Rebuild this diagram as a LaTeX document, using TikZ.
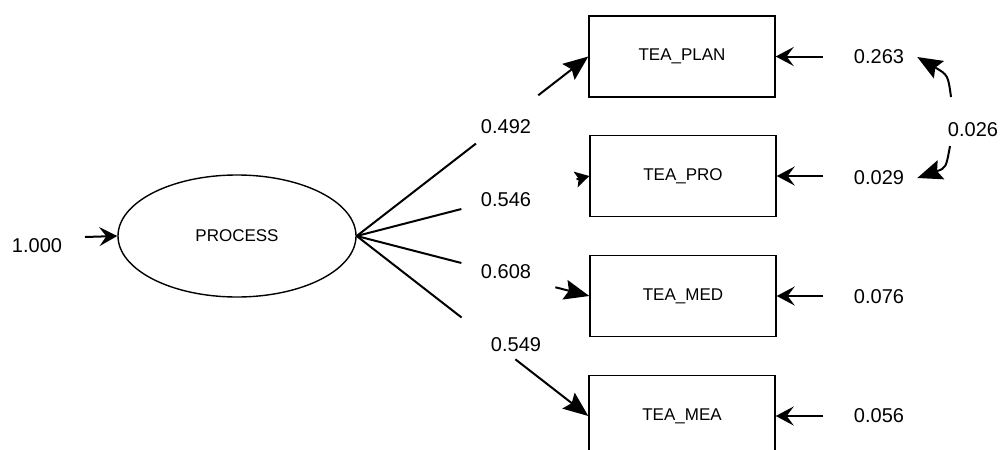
\documentclass[tikz,border=0pt]{standalone}
\usepackage{fontspec}
\setmainfont{Liberation Sans}
\usetikzlibrary{shapes.geometric,arrows.meta,calc}
\begin{document}
\begin{tikzpicture}[x=1pt,y=-1pt,
  obs/.style={draw,line width=1.4pt,minimum width=186pt,minimum height=81pt,inner sep=0pt,font=\fontsize{17}{17}\selectfont},
  lat/.style={draw,ellipse,line width=1.4pt,minimum width=238pt,minimum height=122pt,inner sep=0pt,font=\fontsize{17}{17}\selectfont},
  num/.style={inner sep=0pt,font=\fontsize{20}{20}\selectfont},
  load/.style={line width=2pt},
  loadarr/.style={line width=2pt,-{Stealth[length=25pt,width=20pt,inset=4pt]}},
  smallarr/.style={line width=2pt,-{Stealth[length=14pt,width=16pt,inset=3pt]}},
  resarr/.style={line width=2pt,-{Stealth[length=18pt,width=19pt,inset=7pt]}},
  covarr/.style={line width=2pt,-{Stealth[length=25pt,width=20pt,inset=4pt]}}
]
\useasboundingbox (0,0) rectangle (1002,450);
\fill[white] (0,0) rectangle (1002,450);
\clip (0,0) rectangle (1002,450);

% latent variable
\node[lat] (p) at (237,236) {PROCESS};
\node[num] (e) at (37,246) {1.000};
\coordinate (et) at (85,237);
\draw[resarr] (et) -- (p.west);

% observed variables
\node[obs] (plan) at (682,56.5) {TEA\_PLAN};
\node[obs] (pro)  at (683,176) {TEA\_PRO};
\node[obs] (med)  at (683,296) {TEA\_MED};
\node[obs] (mea)  at (682,416) {TEA\_MEA};

% loading labels
\node[num] (l1) at (506,127) {0.492};
\node[num] (l2) at (506,200) {0.546};
\node[num] (l3) at (506,272) {0.608};
\node[num] (l4) at (516,345) {0.549};

% loadings (broken lines)
\coordinate (a1) at ($(p.east)!0.515!(plan.west)$);
\coordinate (b1) at ($(p.east)!0.784!(plan.west)$);
\coordinate (a2) at ($(p.east)!0.45!(pro.west)$);
\coordinate (b2) at ($(p.east)!0.945!(pro.west)$);
\coordinate (a3) at ($(p.east)!0.45!(med.west)$);
\coordinate (b3) at ($(p.east)!0.854!(med.west)$);
\coordinate (a4) at ($(p.east)!0.453!(mea.west)$);
\coordinate (b4) at ($(p.east)!0.685!(mea.west)$);
\draw[load] (p.east) -- (a1);
\draw[loadarr] (b1) -- (plan.west);
\draw[load] (p.east) -- (a2);
\draw[smallarr] (b2) -- (pro.west);
\draw[load] (p.east) -- (a3);
\draw[loadarr] (b3) -- (med.west);
\draw[load] (p.east) -- (a4);
\draw[loadarr] (b4) -- (mea.west);

% residuals
\node[num] (r1) at (879,57) {0.263};
\node[num] (r2) at (879,178) {0.029};
\node[num] (r3) at (879,297) {0.076};
\node[num] (r4) at (879,416) {0.056};
\coordinate (t1) at (823,56.5);
\coordinate (t2) at (823,176);
\coordinate (t3) at (823,296);
\coordinate (t4) at (823,416);
\draw[resarr] (t1) -- (plan.east);
\draw[resarr] (t2) -- (pro.east);
\draw[resarr] (t3) -- (med.east);
\draw[resarr] (t4) -- (mea.east);

% covariance
\node[num] (c) at (973,130) {0.026};
\coordinate (c1) at (951,97);
\coordinate (c2) at (950,146);
\draw[covarr] (c1) .. controls (948,75) .. ([xshift=13pt]r1.east);
\draw[covarr] (c2) .. controls (946,168) .. ([xshift=13pt]r2.east);
\end{tikzpicture}
\end{document}
